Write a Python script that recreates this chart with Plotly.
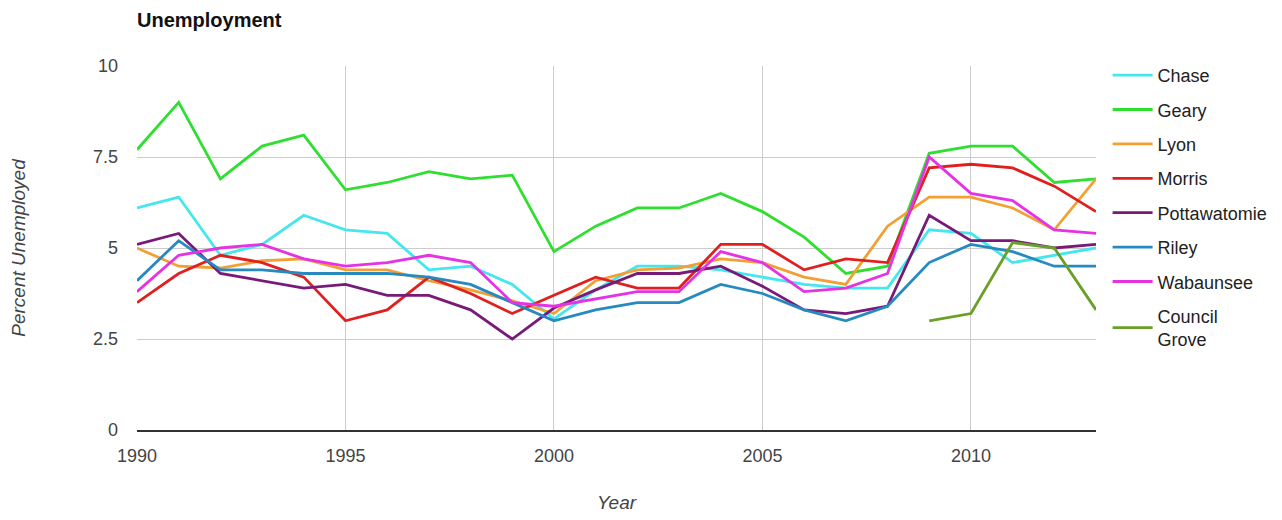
import plotly.graph_objects as go

years = list(range(1990, 2014))

chase = [6.1, 6.4, 4.8, 5.1, 5.9, 5.5, 5.4, 4.4, 4.5, 4.0, 3.05, 3.85, 4.5, 4.5, 4.4, 4.2,
         4.0, 3.9, 3.9, 5.5, 5.4, 4.6, 4.8, 5.0]
geary = [7.7, 9.0, 6.9, 7.8, 8.1, 6.6, 6.8, 7.1, 6.9, 7.0, 4.9, 5.6, 6.1, 6.1, 6.5, 6.0,
         5.3, 4.3, 4.5, 7.6, 7.8, 7.8, 6.8, 6.9]
lyon = [5.0, 4.5, 4.45, 4.65, 4.7, 4.4, 4.4, 4.1, 3.85, 3.55, 3.2, 4.1, 4.4, 4.45, 4.7, 4.6,
        4.2, 4.0, 5.6, 6.4, 6.4, 6.1, 5.5, 6.9]
morris = [3.5, 4.3, 4.8, 4.6, 4.2, 3.0, 3.3, 4.2, 3.75, 3.2, 3.7, 4.2, 3.9, 3.9, 5.1, 5.1,
          4.4, 4.7, 4.6, 7.2, 7.3, 7.2, 6.7, 6.0]
pottawatomie = [5.1, 5.4, 4.3, 4.1, 3.9, 4.0, 3.7, 3.7, 3.3, 2.5, 3.35, 3.85, 4.3, 4.3, 4.5, 3.95,
                3.3, 3.2, 3.4, 5.9, 5.2, 5.2, 5.0, 5.1]
riley = [4.1, 5.2, 4.4, 4.4, 4.3, 4.3, 4.3, 4.2, 4.0, 3.5, 3.0, 3.3, 3.5, 3.5, 4.0, 3.75,
         3.3, 3.0, 3.4, 4.6, 5.1, 4.9, 4.5, 4.5]
wabaunsee = [3.8, 4.8, 5.0, 5.1, 4.7, 4.5, 4.6, 4.8, 4.6, 3.5, 3.4, 3.6, 3.8, 3.8, 4.9, 4.6,
             3.8, 3.9, 4.3, 7.5, 6.5, 6.3, 5.5, 5.4]
council_grove_years = [2009, 2010, 2011, 2012, 2013]
council_grove = [3.0, 3.2, 5.15, 5.0, 3.3]

series = [
    ("Chase", years, chase, "#45e6ee"),
    ("Geary", years, geary, "#2fdf2f"),
    ("Lyon", years, lyon, "#f2a035"),
    ("Morris", years, morris, "#e0201f"),
    ("Pottawatomie", years, pottawatomie, "#781a78"),
    ("Riley", years, riley, "#2689bf"),
    ("Wabaunsee", years, wabaunsee, "#e532e5"),
    ("Council<br>Grove", council_grove_years, council_grove, "#6a9f28"),
]

fig = go.Figure()
for i, (name, xs, ys, color) in enumerate(series):
    fig.add_trace(go.Scatter(
        x=xs, y=ys, name=name, mode="lines",
        line=dict(color=color, width=2.8),
        legendgroup=f"g{i}",
    ))

font_family = "Liberation Sans, Arial, sans-serif"

fig.update_layout(
    width=1282, height=520,
    margin=dict(l=137, r=186, t=66, b=90, autoexpand=False),
    paper_bgcolor="white", plot_bgcolor="white",
    font=dict(family=font_family, size=18, color="#444444"),
    title=dict(
        text="<b>Unemployment</b>",
        x=137 / 1282, xanchor="left", xref="container",
        y=1 - 20 / 520, yanchor="middle", yref="container",
        font=dict(size=20, color="#111111", family=font_family),
    ),
    showlegend=True,
    legend=dict(
        x=1.0121, xanchor="left", y=1.025, yanchor="top",
        font=dict(size=18, color="#222222", family=font_family),
        tracegroupgap=8,
        bgcolor="rgba(0,0,0,0)",
        itemwidth=40,
        maxheight=500,
    ),
    xaxis=dict(
        range=[1990, 2013],
        tickvals=[1990, 1995, 2000, 2005, 2010],
        showgrid=True, gridcolor="#cccccc", gridwidth=1,
        showline=True, linecolor="#333333", linewidth=2,
        zeroline=False, ticks="", ticklabelstandoff=8,
        tickfont=dict(size=18, color="#444444"),
        title=dict(text="<i>Year</i>", font=dict(size=19, color="#444444"), standoff=31),
    ),
    yaxis=dict(
        range=[0, 10],
        tickvals=[0, 2.5, 5, 7.5, 10],
        ticktext=["0", "2.5", "5", "7.5", "10"],
        showgrid=True, gridcolor="#cccccc", gridwidth=1,
        zeroline=False, showline=False, ticks="", ticklabelstandoff=18,
        tickfont=dict(size=18, color="#444444"),
        title=dict(text="<i>Percent Unemployed</i>", font=dict(size=19, color="#444444"), standoff=62),
    ),
)

fig.write_html("out.html")
